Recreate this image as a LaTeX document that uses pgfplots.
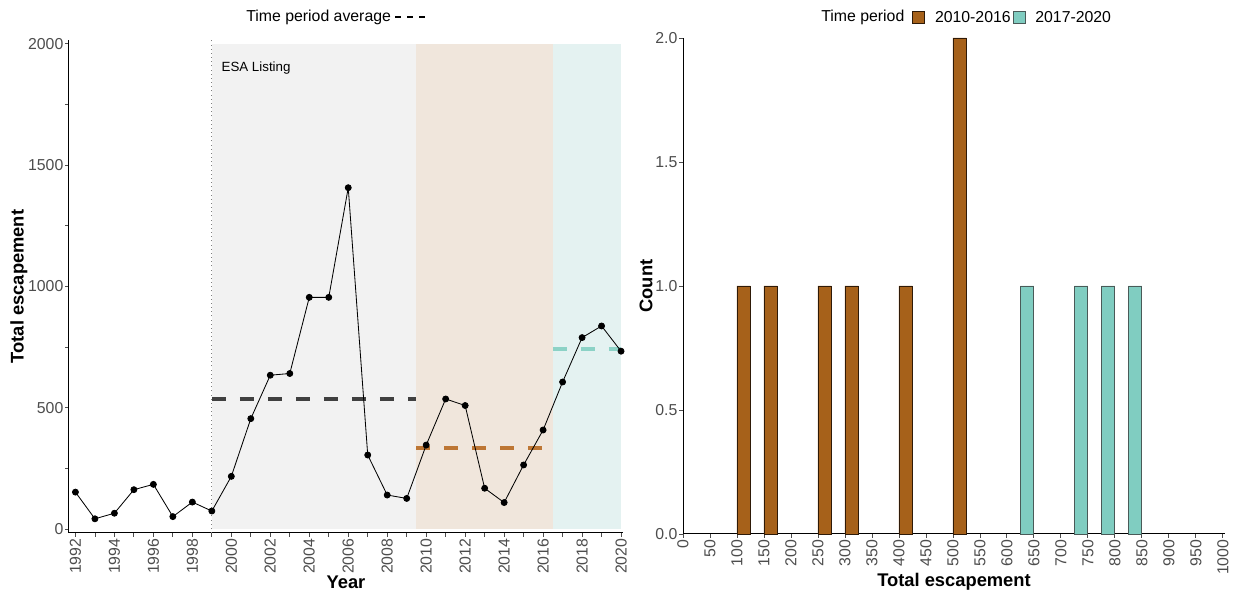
\documentclass[border=0pt]{standalone}
\usepackage{fontspec}
\setmainfont{Liberation Sans}
\usepackage{pgfplots}
\pgfplotsset{compat=1.18}

\definecolor{brbgBrown}{HTML}{A6611A}
\definecolor{brbgTeal}{HTML}{80CDC1}
\definecolor{shadeGray}{HTML}{F2F2F2}
\definecolor{shadeBrown}{HTML}{F0E6DC}
\definecolor{shadeTeal}{HTML}{E4F2F1}
\definecolor{avgGray}{HTML}{404040}
\definecolor{avgBrown}{HTML}{BD7634}
\definecolor{avgTeal}{HTML}{8CD2C6}
\definecolor{tickGray}{HTML}{4D4D4D}
\definecolor{brownEdge}{HTML}{2E1A08}
\definecolor{tealEdge}{HTML}{4A5A58}

\pgfplotsset{
  classic/.style={
    scale only axis,
    axis x line*=bottom,
    axis y line*=left,
    axis line style={black, line width=0.6pt},
    tick align=outside,
    major tick length=2.4pt,
    minor tick length=2.4pt,
    every tick/.style={tickGray, line width=0.5pt},
    every minor tick/.style={tickGray, line width=0.5pt},
    ticklabel style={font=\fontsize{9.5}{11}\selectfont, text=tickGray, inner sep=0.8pt},
    /pgf/number format/assume math mode=true,
    /pgf/number format/1000 sep={},
    xticklabel style={rotate=90, anchor=east},
    label style={font=\fontsize{11}{13}\selectfont\bfseries},
    clip=false,
  }
}

\begin{document}
\begin{tikzpicture}
\path[use as bounding box] (0,0) rectangle (747pt,357.6pt);

% ---------------- Left panel: escapement time series ----------------
\begin{axis}[classic,
  at={(41.4pt,37.8pt)}, anchor=south west,
  width=332.4pt, height=295.8pt,
  xmin=1991.67, xmax=2020.1, ymin=-16.5, ymax=2016,
  xtick={1992,1994,...,2020},
  minor xtick={1993,1995,...,2019},
  ytick={0,500,1000,1500,2000},
  minor ytick={250,750,1250,1750},
  xlabel={Year}, ylabel={Total escapement},
  xlabel style={at={(axis description cs:0.5,-0.0994)}, anchor=center},
  ylabel style={at={(axis description cs:-0.0903,0.5)}, anchor=center, rotate=0},
]
% management periods
\addplot[fill=shadeGray, draw=none] coordinates {(1999,0) (1999,2000) (2009.5,2000) (2009.5,0)} -- cycle;
\addplot[fill=shadeBrown, draw=none] coordinates {(2009.5,0) (2009.5,2000) (2016.5,2000) (2016.5,0)} -- cycle;
\addplot[fill=shadeTeal, draw=none] coordinates {(2016.5,0) (2016.5,2000) (2020,2000) (2020,0)} -- cycle;

% listing date
\addplot[gray, dotted, line width=0.5pt] coordinates {(1999,-16.5) (1999,2016)};
\node[anchor=west, font=\fontsize{8}{9}\selectfont] at (axis cs:1999.2,1901) {ESA Listing};

% period averages
\addplot[avgGray, line width=2.4pt, dash pattern=on 8.4pt off 8.4pt] coordinates {(1999,537) (2009.5,537)};
\addplot[avgBrown, line width=2.4pt, dash pattern=on 8.4pt off 8.4pt] coordinates {(2009.5,334) (2016,334)};
\addplot[avgTeal, line width=2.4pt, dash pattern=on 8.4pt off 8.4pt] coordinates {(2016.5,741) (2020,741)};

% annual escapement
\addplot[black, line width=0.5pt, mark=*, mark size=1.8pt] table {
year  esc
1992  152
1993  42
1994  65
1995  162
1996  184
1997  51
1998  111
1999  74
2000  217
2001  455
2002  634
2003  641
2004  955
2005  955
2006  1407
2007  305
2008  140
2009  126
2010  346
2011  536
2012  509
2013  168
2014  109
2015  264
2016  408
2017  606
2018  789
2019  837
2020  733
};
\end{axis}

% ---------------- Right panel: histogram ----------------
\begin{axis}[classic,
  at={(409.8pt,37.2pt)}, anchor=south west,
  width=325.2pt, height=297.6pt,
  xmin=0, xmax=1004, ymin=0, ymax=2,
  xtick={0,50,...,1000},
  ytick={0,0.5,1,1.5,2},
  yticklabel style={/pgf/number format/fixed, /pgf/number format/fixed zerofill, /pgf/number format/precision=1},
  xlabel={Total escapement}, ylabel={Count},
  xlabel style={at={(axis description cs:0.5,-0.0968)}, anchor=center},
  ylabel style={at={(axis description cs:-0.0683,0.5)}, anchor=center, rotate=0},
]
\addplot[ybar, bar width=25, bar shift=0pt, fill=brbgBrown, draw=brownEdge, line width=0.5pt] coordinates {
(112.5,1) (162.5,1) (262.5,1) (312.5,1) (412.5,1) (512.5,2)
};
\addplot[ybar, bar width=25, bar shift=0pt, fill=brbgTeal, draw=tealEdge, line width=0.5pt] coordinates {
(637.5,1) (737.5,1) (787.5,1) (837.5,1)
};
\end{axis}

% ---------------- Legends ----------------
\node[anchor=west, font=\fontsize{9.5}{11}\selectfont, inner sep=0pt] at (147.6pt,347.4pt) {Time period average};
\draw[black, line width=0.9pt, dash pattern=on 3.6pt off 3.6pt] (237pt,347.4pt) -- (257pt,347.4pt);

\node[anchor=west, font=\fontsize{9.5}{11}\selectfont, inner sep=0pt] at (492.6pt,347.4pt) {Time period};
\filldraw[fill=brbgBrown, draw=brownEdge, line width=0.5pt] (547.5pt,343.8pt) rectangle (554.7pt,351pt);
\node[anchor=west, font=\fontsize{9.5}{11}\selectfont, inner sep=0pt] at (560.8pt,347.4pt) {2010-2016};
\filldraw[fill=brbgTeal, draw=tealEdge, line width=0.5pt] (607.8pt,343.8pt) rectangle (615.2pt,351pt);
\node[anchor=west, font=\fontsize{9.5}{11}\selectfont, inner sep=0pt] at (621pt,347.4pt) {2017-2020};
\end{tikzpicture}
\end{document}
